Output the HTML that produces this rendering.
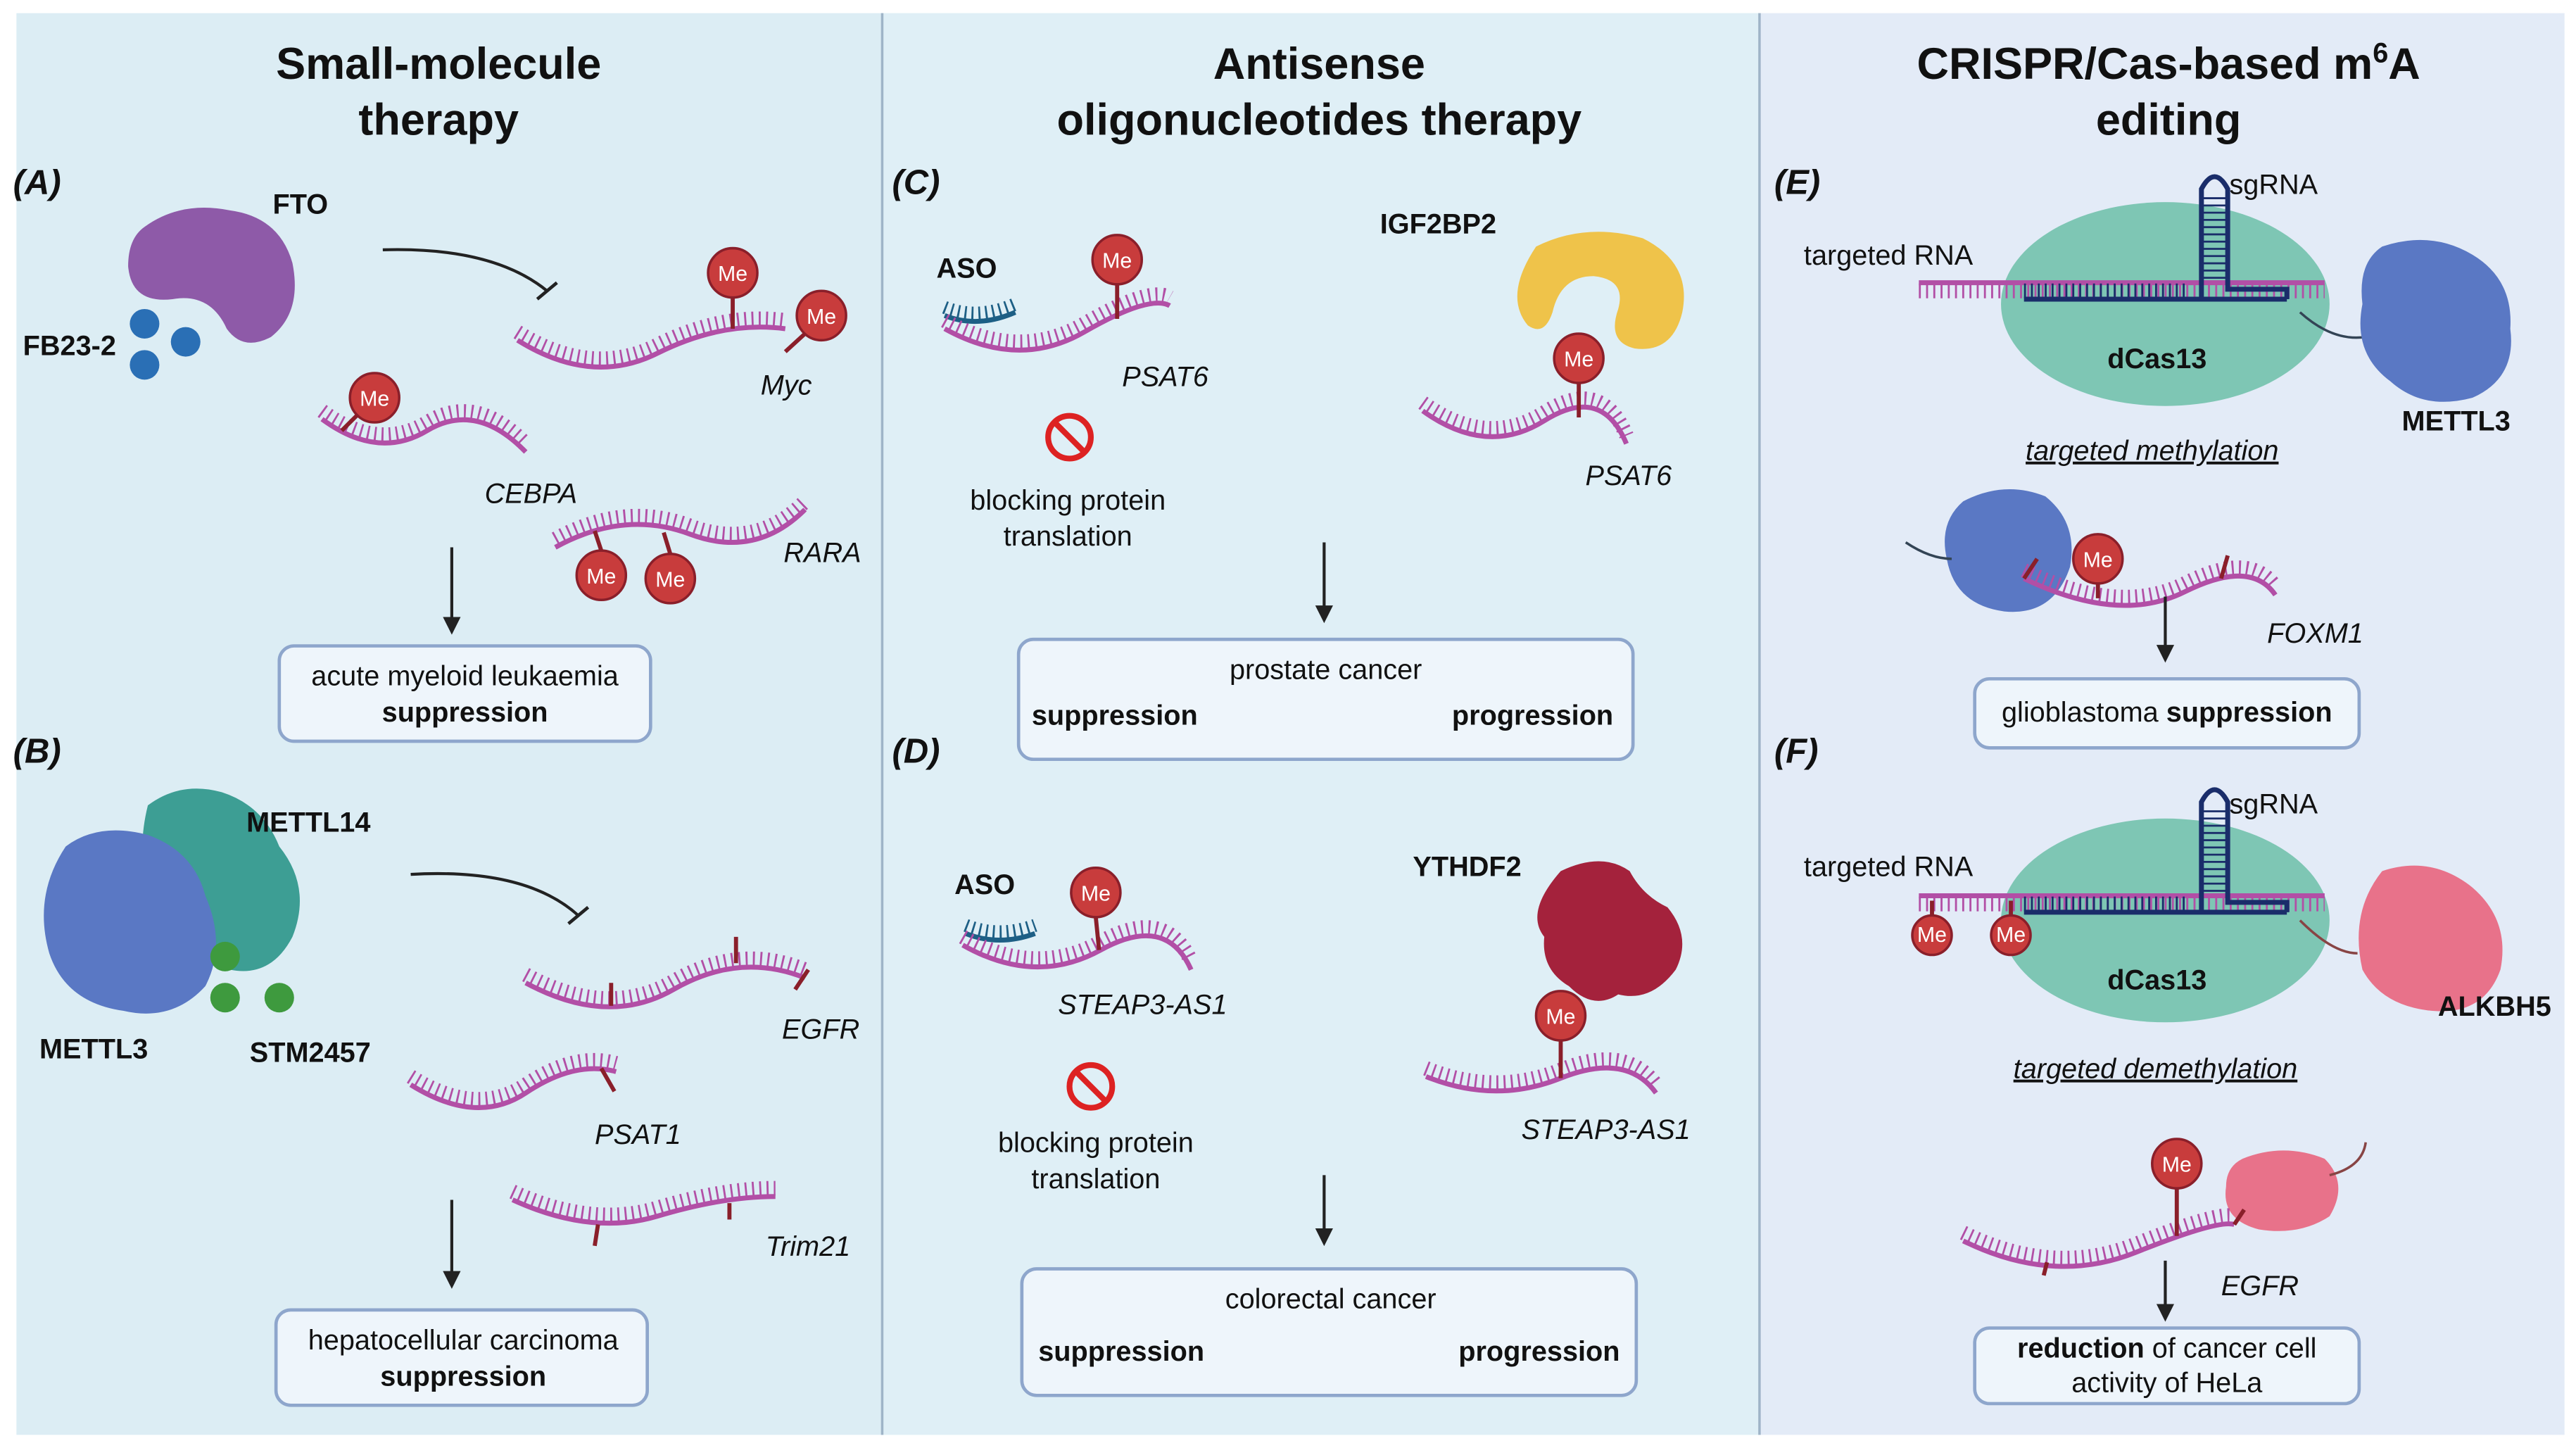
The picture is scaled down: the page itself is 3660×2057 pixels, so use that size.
<!DOCTYPE html>
<html><head><meta charset="utf-8"><style>
html,body{margin:0;padding:0;background:#fff}
svg{display:block}
text{font-family:"Liberation Sans",sans-serif;fill:#111}
.t{font-size:27px;font-weight:bold;text-anchor:middle}
.l{font-size:17px}
.b{font-weight:bold}
.i{font-style:italic}
.p{font-size:21px;font-style:italic;font-weight:bold}
.rna{fill:none;stroke:#b24fa6;stroke-width:3}
.th{fill:none;stroke:#b24fa6;stroke-width:9;stroke-dasharray:1.2 3.2}
.st{stroke:#8a1f2a;stroke-width:2.5}
.box{fill:#eef5fb;stroke:#8ea6cc;stroke-width:2}
.ar{stroke:#222;stroke-width:1.8;fill:none}
.me{fill:#c83c3c;stroke:#8a1f2a;stroke-width:1.5}
.mt{fill:#fff;font-size:13px;text-anchor:middle}
</style></head><body>
<svg width="3660" height="2057" viewBox="0 0 1568 881" preserveAspectRatio="none" xmlns="http://www.w3.org/2000/svg">
<defs>
<marker id="ah" viewBox="0 0 10 10" refX="8" refY="5" markerWidth="6" markerHeight="6" orient="auto"><path d="M0,0L10,5L0,10z" fill="#222"/></marker>
</defs>
<rect x="0" y="0" width="1568" height="881" fill="#fff"/>
<rect x="10" y="8" width="527" height="865" fill="#dcedf4"/>
<rect x="537" y="8" width="534" height="865" fill="#dfeff6"/>
<rect x="1071" y="8" width="490" height="865" fill="#e3ebf7"/>
<line x1="537" y1="8" x2="537" y2="873" stroke="#9fb4c8" stroke-width="1.5"/>
<line x1="1071" y1="8" x2="1071" y2="873" stroke="#9fb4c8" stroke-width="1.5"/>

<text class="t" x="267" y="48">Small-molecule</text>
<text class="t" x="267" y="82">therapy</text>
<text class="t" x="803" y="48">Antisense</text>
<text class="t" x="803" y="82">oligonucleotides therapy</text>
<text class="t" x="1320" y="48">CRISPR/Cas-based m<tspan font-size="17" dy="-10">6</tspan><tspan dy="10">A</tspan></text>
<text class="t" x="1320" y="82">editing</text>

<!-- Panel A -->
<text class="p" x="8" y="118">(A)</text>
<path d="M88,138 Q110,122 140,128 Q170,132 178,160 Q184,190 165,205 Q148,214 138,200 Q128,178 105,182 Q80,185 78,162 Q78,145 88,138z" fill="#8e5aa8"/>
<text class="l b" x="166" y="130">FTO</text>
<text class="l b" x="14" y="216">FB23-2</text>
<circle cx="88" cy="197" r="9" fill="#2a6fb5"/><circle cx="113" cy="208" r="9" fill="#2a6fb5"/><circle cx="88" cy="222" r="9" fill="#2a6fb5"/>
<path class="ar" d="M233,152 Q300,150 333,177"/><line x1="327" y1="182" x2="339" y2="172" stroke="#222" stroke-width="2"/>

<path class="th" transform="translate(0,-5)" d="M315,207 Q360,235 400,215 T478,200"/>
<path class="rna" d="M315,207 Q360,235 400,215 T478,200"/>
<line class="st" x1="446" y1="180" x2="446" y2="200"/><circle class="me" cx="446" cy="166" r="15"/><text class="mt" x="446" y="171">Me</text>
<line class="st" x1="490" y1="203" x2="478" y2="214"/><circle class="me" cx="500" cy="192" r="15"/><text class="mt" x="500" y="197">Me</text>
<text class="l i" x="463" y="240">Myc</text>

<path class="th" transform="translate(0,-5)" d="M196,255 Q230,280 260,262 T320,275"/>
<path class="rna" d="M196,255 Q230,280 260,262 T320,275"/>
<line class="st" x1="218" y1="252" x2="208" y2="262"/><circle class="me" cx="228" cy="242" r="15"/><text class="mt" x="228" y="247">Me</text>
<text class="l i" x="295" y="306">CEBPA</text>

<path class="th" transform="translate(0,-5)" d="M338,333 Q380,310 420,325 T490,310"/>
<path class="rna" d="M338,333 Q380,310 420,325 T490,310"/>
<line class="st" x1="366" y1="335" x2="362" y2="323"/><circle class="me" cx="366" cy="350" r="15"/><text class="mt" x="366" y="355">Me</text>
<line class="st" x1="408" y1="337" x2="404" y2="324"/><circle class="me" cx="408" cy="352" r="15"/><text class="mt" x="408" y="357">Me</text>
<text class="l i" x="477" y="342">RARA</text>

<line class="ar" x1="275" y1="333" x2="275" y2="384" marker-end="url(#ah)"/>
<rect class="box" x="170" y="393" width="226" height="58" rx="9"/>
<text class="l" x="283" y="417" text-anchor="middle">acute myeloid leukaemia</text>
<text class="l b" x="283" y="439" text-anchor="middle">suppression</text>

<!-- Panel B -->
<text class="p" x="8" y="464">(B)</text>
<path d="M90,490 Q110,475 135,482 Q160,490 170,515 Q190,540 178,570 Q165,595 140,590 Q110,585 100,560 Q80,530 90,490z" fill="#3d9e94"/>
<path d="M40,515 Q60,500 90,508 Q118,518 125,545 Q138,575 125,600 Q105,622 75,615 Q40,610 30,580 Q20,545 40,515z" fill="#5a78c4"/>
<text class="l b" x="150" y="506">METTL14</text>
<text class="l b" x="24" y="644">METTL3</text>
<text class="l b" x="152" y="646">STM2457</text>
<circle cx="137" cy="582" r="9" fill="#3e9a3e"/><circle cx="137" cy="607" r="9" fill="#3e9a3e"/><circle cx="170" cy="607" r="9" fill="#3e9a3e"/>
<path class="ar" d="M250,532 Q320,528 352,557"/><line x1="346" y1="562" x2="358" y2="552" stroke="#222" stroke-width="2"/>

<path class="th" transform="translate(0,-5)" d="M320,598 Q370,625 410,602 T490,595"/>
<path class="rna" d="M320,598 Q370,625 410,602 T490,595"/>
<line class="st" x1="372" y1="612" x2="372" y2="598"/><line class="st" x1="448" y1="570" x2="448" y2="586"/><line class="st" x1="484" y1="602" x2="492" y2="590"/>
<text class="l i" x="476" y="632">EGFR</text>
<path class="th" transform="translate(0,-5)" d="M250,660 Q290,685 320,665 T375,652"/>
<path class="rna" d="M250,660 Q290,685 320,665 T375,652"/>
<line class="st" x1="366" y1="650" x2="374" y2="664"/>
<text class="l i" x="362" y="696">PSAT1</text>
<path class="th" transform="translate(0,-5)" d="M312,730 Q360,752 400,740 T472,728"/>
<path class="rna" d="M312,730 Q360,752 400,740 T472,728"/>
<line class="st" x1="364" y1="745" x2="362" y2="758"/><line class="st" x1="444" y1="732" x2="444" y2="742"/>
<text class="l i" x="466" y="764">Trim21</text>
<line class="ar" x1="275" y1="730" x2="275" y2="782" marker-end="url(#ah)"/>
<rect class="box" x="168" y="797" width="226" height="58" rx="9"/>
<text class="l" x="282" y="821" text-anchor="middle">hepatocellular carcinoma</text>
<text class="l b" x="282" y="843" text-anchor="middle">suppression</text>

<!-- Panel C -->
<text class="p" x="543" y="118">(C)</text>
<text class="l b" x="570" y="169">ASO</text>
<path d="M575,192 Q595,200 618,190" fill="none" stroke="#1d5f85" stroke-width="3"/>
<path d="M575,187 Q595,195 618,185" fill="none" stroke="#1d5f85" stroke-width="8" stroke-dasharray="1.2 3"/>
<path class="th" transform="translate(0,-5)" d="M575,200 Q620,225 660,202 T712,186"/>
<path class="rna" d="M575,200 Q620,225 660,202 T712,186"/>
<line class="st" x1="680" y1="172" x2="680" y2="194"/><circle class="me" cx="680" cy="158" r="15"/><text class="mt" x="680" y="163">Me</text>
<text class="l i" x="683" y="235">PSAT6</text>
<circle cx="651" cy="266" r="13" fill="none" stroke="#d22" stroke-width="3.5"/><line x1="642" y1="257" x2="660" y2="275" stroke="#d22" stroke-width="3.5"/>
<text class="l" x="650" y="310" text-anchor="middle">blocking protein</text>
<text class="l" x="650" y="332" text-anchor="middle">translation</text>
<text class="l b" x="840" y="142">IGF2BP2</text>
<path d="M935,150 Q965,135 1000,145 Q1030,160 1024,190 Q1018,215 995,212 Q978,208 985,188 Q990,170 970,168 Q950,168 945,190 Q940,205 930,198 Q915,180 935,150z" fill="#efc34a"/>
<path class="th" transform="translate(0,-5)" d="M866,250 Q905,278 940,256 T990,270"/>
<path class="rna" d="M866,250 Q905,278 940,256 T990,270"/>
<line class="st" x1="961" y1="232" x2="961" y2="254"/><circle class="me" cx="961" cy="218" r="15"/><text class="mt" x="961" y="223">Me</text>
<text class="l i" x="965" y="295">PSAT6</text>
<line class="ar" x1="806" y1="330" x2="806" y2="377" marker-end="url(#ah)"/>
<rect class="box" x="620" y="389" width="374" height="73" rx="9"/>
<text class="l" x="807" y="413" text-anchor="middle">prostate cancer</text>
<text class="l b" x="628" y="441">suppression</text>
<text class="l b" x="982" y="441" text-anchor="end">progression</text>

<!-- Panel D -->
<text class="p" x="543" y="464">(D)</text>
<text class="l b" x="581" y="544">ASO</text>
<path d="M588,568 Q608,576 630,568" fill="none" stroke="#1d5f85" stroke-width="3"/>
<path d="M588,563 Q608,571 630,563" fill="none" stroke="#1d5f85" stroke-width="8" stroke-dasharray="1.2 3"/>
<path class="th" transform="translate(0,-5)" d="M586,575 Q630,600 670,578 T725,590"/>
<path class="rna" d="M586,575 Q630,600 670,578 T725,590"/>
<line class="st" x1="667" y1="558" x2="669" y2="578"/><circle class="me" cx="667" cy="543" r="15"/><text class="mt" x="667" y="548">Me</text>
<text class="l i" x="644" y="617">STEAP3-AS1</text>
<circle cx="664" cy="661" r="13" fill="none" stroke="#d22" stroke-width="3.5"/><line x1="655" y1="652" x2="673" y2="670" stroke="#d22" stroke-width="3.5"/>
<text class="l" x="667" y="701" text-anchor="middle">blocking protein</text>
<text class="l" x="667" y="723" text-anchor="middle">translation</text>
<text class="l b" x="860" y="533">YTHDF2</text>
<path d="M950,530 Q975,518 992,530 Q1000,545 1015,552 Q1030,570 1020,590 Q1005,610 985,605 Q970,615 955,600 Q938,590 940,570 Q928,555 950,530z" fill="#a4223c"/>
<path class="th" transform="translate(0,-5)" d="M868,655 Q910,672 950,656 T1008,665"/>
<path class="rna" d="M868,655 Q910,672 950,656 T1008,665"/>
<line class="st" x1="950" y1="632" x2="950" y2="656"/><circle class="me" cx="950" cy="618" r="15"/><text class="mt" x="950" y="623">Me</text>
<text class="l i" x="926" y="693">STEAP3-AS1</text>
<line class="ar" x1="806" y1="715" x2="806" y2="756" marker-end="url(#ah)"/>
<rect class="box" x="622" y="772" width="374" height="77" rx="9"/>
<text class="l" x="810" y="796" text-anchor="middle">colorectal cancer</text>
<text class="l b" x="632" y="828">suppression</text>
<text class="l b" x="986" y="828" text-anchor="end">progression</text>

<!-- Panel E -->
<text class="p" x="1080" y="118">(E)</text>
<ellipse cx="1318" cy="185" rx="100" ry="62" fill="#6cbfa8" opacity="0.85"/>
<text class="l b" x="1313" y="224" text-anchor="middle" font-size="18">dCas13</text>
<path class="th" transform="translate(0,5)" d="M1168,172 L1415,172"/>
<line class="rna" x1="1168" y1="172" x2="1415" y2="172"/>
<line x1="1232" y1="182" x2="1392" y2="182" stroke="#1a2d6a" stroke-width="3"/>
<path d="M1232,177 L1330,177" stroke="#1a2d6a" stroke-width="9" stroke-dasharray="1.2 3" fill="none"/>
<path d="M1340,182 L1340,115 Q1348,100 1356,115 L1356,176 L1392,176 L1392,182" fill="none" stroke="#1a2d6a" stroke-width="3"/>
<path d="M1348,120 L1348,172" stroke="#1a2d6a" stroke-width="16" stroke-dasharray="1.2 3.2"/>
<text class="l" x="1357" y="118">sgRNA</text>
<text class="l" x="1098" y="161">targeted RNA</text>
<path d="M1400,190 Q1420,208 1440,205" fill="none" stroke="#345" stroke-width="1.5"/>
<path d="M1450,150 Q1480,140 1505,155 Q1530,170 1528,200 Q1532,230 1505,242 Q1475,250 1455,232 Q1432,215 1438,185 Q1435,160 1450,150z" fill="#5a78c4"/>
<text class="l b" x="1462" y="262">METTL3</text>
<text class="l i" x="1310" y="280" text-anchor="middle" text-decoration="underline">targeted methylation</text>
<path d="M1195,305 Q1220,292 1245,302 Q1265,318 1260,345 Q1250,375 1220,372 Q1190,368 1185,340 Q1180,318 1195,305z" fill="#5a78c4"/>
<path d="M1160,330 Q1175,340 1188,340" fill="none" stroke="#345" stroke-width="1.5"/>
<path class="th" transform="translate(0,-5)" d="M1232,352 Q1290,380 1330,360 T1385,362"/>
<path class="rna" d="M1232,352 Q1290,380 1330,360 T1385,362"/>
<line class="st" x1="1232" y1="352" x2="1240" y2="340"/><line class="st" x1="1352" y1="352" x2="1356" y2="338"/>
<line class="st" x1="1277" y1="354" x2="1277" y2="364"/><circle class="me" cx="1277" cy="340" r="15"/><text class="mt" x="1277" y="345">Me</text>
<text class="l i" x="1380" y="391">FOXM1</text>
<line class="ar" x1="1318" y1="363" x2="1318" y2="401" marker-end="url(#ah)"/>
<rect class="box" x="1202" y="413" width="234" height="42" rx="9"/>
<text class="l" x="1319" y="439" text-anchor="middle">glioblastoma <tspan class="b">suppression</tspan></text>

<!-- Panel F -->
<text class="p" x="1080" y="464">(F)</text>
<ellipse cx="1318" cy="560" rx="100" ry="62" fill="#6cbfa8" opacity="0.85"/>
<text class="l b" x="1313" y="602" text-anchor="middle" font-size="18">dCas13</text>
<path class="th" transform="translate(0,5)" d="M1168,545 L1415,545"/>
<line class="rna" x1="1168" y1="545" x2="1415" y2="545"/>
<line x1="1232" y1="555" x2="1392" y2="555" stroke="#1a2d6a" stroke-width="3"/>
<path d="M1232,550 L1330,550" stroke="#1a2d6a" stroke-width="9" stroke-dasharray="1.2 3" fill="none"/>
<path d="M1340,555 L1340,488 Q1348,473 1356,488 L1356,549 L1392,549 L1392,555" fill="none" stroke="#1a2d6a" stroke-width="3"/>
<path d="M1348,493 L1348,545" stroke="#1a2d6a" stroke-width="16" stroke-dasharray="1.2 3.2"/>
<text class="l" x="1357" y="495">sgRNA</text>
<text class="l" x="1098" y="533">targeted RNA</text>
<line class="st" x1="1176" y1="548" x2="1176" y2="558"/><circle class="me" cx="1176" cy="569" r="12"/><text class="mt" x="1176" y="573" font-size="11">Me</text>
<line class="st" x1="1224" y1="548" x2="1224" y2="558"/><circle class="me" cx="1224" cy="569" r="12"/><text class="mt" x="1224" y="573" font-size="11">Me</text>
<path d="M1400,560 Q1420,580 1435,580" fill="none" stroke="#844" stroke-width="1.5"/>
<path d="M1450,530 Q1480,520 1505,540 Q1528,560 1522,590 Q1512,618 1480,615 Q1450,612 1438,590 Q1430,555 1450,530z" fill="#e8728a"/>
<text class="l b" x="1484" y="618">ALKBH5</text>
<text class="l i" x="1312" y="656" text-anchor="middle" text-decoration="underline">targeted demethylation</text>
<path d="M1365,705 Q1390,695 1415,705 Q1430,720 1418,740 Q1400,752 1375,748 Q1352,742 1355,722 Q1355,710 1365,705z" fill="#e8728a"/>
<path d="M1418,715 Q1438,710 1440,695" fill="none" stroke="#844" stroke-width="1.5"/>
<path class="th" transform="translate(0,-5)" d="M1195,755 Q1250,782 1300,762 T1360,745"/>
<path class="rna" d="M1195,755 Q1250,782 1300,762 T1360,745"/>
<line class="st" x1="1246" y1="768" x2="1244" y2="776"/><line class="st" x1="1360" y1="745" x2="1366" y2="736"/>
<line class="st" x1="1325" y1="722" x2="1325" y2="752"/><circle class="me" cx="1325" cy="708" r="15"/><text class="mt" x="1325" y="713">Me</text>
<text class="l i" x="1352" y="788">EGFR</text>
<line class="ar" x1="1318" y1="767" x2="1318" y2="802" marker-end="url(#ah)"/>
<rect class="box" x="1202" y="808" width="234" height="46" rx="9"/>
<text class="l" x="1319" y="826" text-anchor="middle"><tspan class="b">reduction</tspan> of cancer cell</text>
<text class="l" x="1319" y="847" text-anchor="middle">activity of HeLa</text>
</svg>
</body></html>
